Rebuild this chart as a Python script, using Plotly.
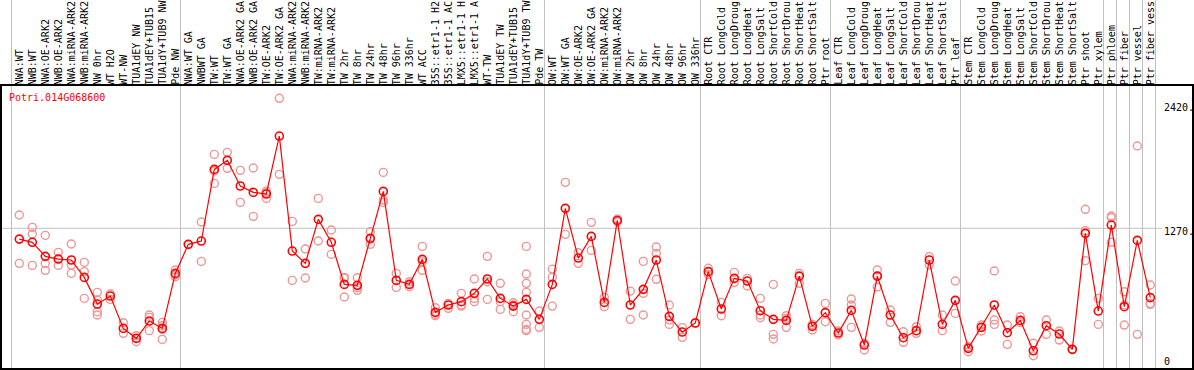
import plotly.graph_objects as go

gene = "Potri.014G068600"

categories = [
    "NWA:WT", "NWB:WT", "NWA:OE-ARK2", "NWB:OE-ARK2", "NWA:miRNA-ARK2", "NWB:miRNA-ARK2",
    "NW 0hr", "WT H2O", "WT-NW", "TUA1dEY NW", "TUA1dEY+TUB15", "TUA1dY+TUB9 NW", "Pde NW",
    "NWA:WT GA", "NWBWT GA", "TW:WT", "TW:WT GA", "NWA:OE-ARK2 GA", "NWB:OE-ARK2 GA",
    "TW:OE-ARK2", "TW:OE-ARK2 GA", "NWA:miRNA-ARK2", "NWB:miRNA-ARK2", "TW:miRNA-ARK2",
    "TW:miRNA-ARK2", "TW 2hr", "TW 8hr", "TW 24hr", "TW 48hr", "TW 96hr", "TW 336hr",
    "WT ACC", "35S::etr1-1 H2", "35S::etr1-1 AC", "LMX5::etr1-1 H", "LMX5::etr1-1 A",
    "WT-TW", "TUA1dEY TW", "TUA1dEY+TUB15", "TUA1dY+TUB9 TW", "Pde TW",
    "OW:WT", "OW:WT GA", "OW:OE-ARK2", "OW:OE-ARK2 GA", "OW:miRNA-ARK2", "OW:miRNA-ARK2",
    "OW 2hr", "OW 8hr", "OW 24hr", "OW 48hr", "OW 96hr", "OW 336hr",
    "Root CTR", "Root LongCold", "Root LongDroug", "Root LongHeat", "Root LongSalt",
    "Root ShortCold", "Root ShortDrou", "Root ShortHeat", "Root ShortSalt", "Ptr root",
    "Leaf CTR", "Leaf LongCold", "Leaf LongDroug", "Leaf LongHeat", "Leaf LongSalt",
    "Leaf ShortCold", "Leaf ShortDrou", "Leaf ShortHeat", "Leaf ShortSalt", "Ptr leaf",
    "Stem CTR", "Stem LongCold", "Stem LongDroug", "Stem LongHeat", "Stem LongSalt",
    "Stem ShortCold", "Stem ShortDrou", "Stem ShortHeat", "Stem ShortSalt", "Ptr shoot",
    "Ptr xylem", "Ptr phloem", "Ptr fiber", "Ptr vessel", "Ptr fiber vess",
]

mean_values = [
    1170, 1140, 1010, 985, 976, 815, 568, 642, 342, 250, 410, 342, 852,
    1121, 1152, 1816, 1900, 1662, 1603, 1588, 2125, 1059, 945, 1353, 1140,
    750, 741, 1177, 1612, 787, 750, 982, 491, 559, 590, 667, 800, 620, 549, 611, 426,
    750, 1455, 994, 1195, 583, 1343, 559, 704, 976, 454, 308, 392,
    868, 522, 806, 781, 506, 426, 416, 827, 361, 488,
    299, 509, 188, 827, 466, 256, 321, 976, 379, 602,
    157, 352, 559, 302, 416, 135, 367, 290, 148, 1223, 503,
    1300, 543, 1158, 627,
]

replicates = [
    [1393, 945], [1279, 1217, 926], [1204, 945, 880], [1047, 985, 926], [1124, 929, 852],
    [954, 868, 620], [676, 605, 497, 466], [661, 611], [395, 296], [274, 219],
    [466, 444, 321], [398, 367, 333, 240], [883, 837, 821],
    [1121], [1328, 963], [1955, 1801, 1686], [1974, 1826], [1807, 1510], [1829, 1381],
    [1615, 1600, 1547], [2475, 1770], [1334, 787], [1078, 809], [1547, 1152], [1254, 1028],
    [815, 806, 633], [812, 719, 695], [1238, 1170, 1121], [1788, 1532, 1510], [852, 722],
    [775, 750, 729], [1102, 960, 880], [534, 472, 460], [574, 528], [667, 559, 549],
    [800, 620, 590], [1010, 775, 611], [760, 590, 518], [580, 559, 497],
    [1102, 846, 760, 676, 466, 379, 333, 321], [503, 352],
    [892, 815, 549], [1696, 1214], [1044, 945], [1325, 1065], [630, 543], [1356, 1331],
    [688, 426], [963, 667, 466], [1096, 1038, 797], [559, 420, 379], [349, 259], [392],
    [899, 843], [583, 460], [861, 769], [806, 735], [620, 466, 441], [750, 287, 244],
    [460, 435, 352], [852, 760], [379, 327], [574, 404],
    [318, 281], [614, 559, 352], [204, 142], [883, 827, 726], [512, 398], [311, 213],
    [358, 296], [1007, 929], [466, 321], [781, 481],
    [172, 126], [373, 318], [874, 420, 379], [373, 194], [450, 398], [204, 89],
    [420, 287], [318, 234], [148], [1446, 1248, 970], [620, 379],
    [1384, 1368, 1140], [682, 559, 373], [2033, 287], [744, 574, 565],
]

y_tick_values = [0, 1270, 2420]
y_tick_labels = ["0", "1270.", "2420."]
group_ends = [0, 13, 41, 53, 63, 73, 84, 85, 86, 87, 88]

W, H = 1194, 370
PL, PR, PT, PB = 1, 1193, 85, 369
xpos = list(range(1, len(categories) + 1))
x_range = [1 + (PL - 19.3) / 13.0, 1 + (PR - 19.3) / 13.0]
y_range = [-34.3, 2598.4]

rep_x, rep_y = [], []
for i, reps in enumerate(replicates):
    for v in reps:
        rep_x.append(xpos[i])
        rep_y.append(v)

fig = go.Figure()
fig.add_trace(go.Scatter(
    x=rep_x, y=rep_y, mode="markers",
    marker=dict(symbol="circle-open", size=8, color="rgb(238,150,150)", line=dict(width=1.4)),
    showlegend=False, hoverinfo="skip", cliponaxis=False,
))
fig.add_trace(go.Scatter(
    x=xpos, y=mean_values, mode="lines+markers",
    line=dict(color="#ff0000", width=1.2),
    marker=dict(symbol="circle-open", size=8, color="#ff0000", line=dict(width=1.6)),
    showlegend=False, cliponaxis=False,
))

shapes = []
top_paper = 1 + PT / (PB - PT)
for b in group_ends:
    xv = b + 0.4
    shapes.append(dict(type="line", xref="x", yref="paper", x0=xv, x1=xv, y0=0, y1=top_paper,
                       line=dict(color="#c0c0c0", width=1), layer="below"))
x_grid_end = 1 + (1162 - 19.3) / 13.0
shapes.append(dict(type="line", xref="x", yref="y", x0=x_range[0], x1=x_grid_end,
                   y0=1270, y1=1270, line=dict(color="#c0c0c0", width=1), layer="below"))
shapes.append(dict(type="rect", xref="paper", yref="paper", x0=0, x1=1, y0=0, y1=1,
                   line=dict(color="black", width=2), layer="above"))

annotations = []
mono = "DejaVu Sans Mono"
for i, c in enumerate(categories):
    annotations.append(dict(
        x=xpos[i], y=1.0, xref="x", yref="paper", text=c, textangle=-90,
        showarrow=False, xanchor="center", yanchor="bottom",
        font=dict(family=mono, size=10, color="black"), borderpad=0, borderwidth=0,
    ))

label_x = 1 + (1164 - 19.3) / 13.0
label_offsets = {0: 33, 1270: 1238, 2420: 2388}
for v, t in zip(y_tick_values, y_tick_labels):
    annotations.append(dict(
        x=label_x, y=label_offsets[v], xref="x", yref="y", text=t, showarrow=False,
        xanchor="left", yanchor="middle", font=dict(family=mono, size=10, color="black"),
        borderpad=0, borderwidth=0,
    ))

annotations.append(dict(
    x=(9.3 - PL) / (PR - PL), y=(PB - 97.3) / (PB - PT), xref="paper", yref="paper",
    text=gene, showarrow=False, xanchor="left", yanchor="middle",
    font=dict(family=mono, size=10, color="#ff0000"), borderpad=0, borderwidth=0,
))

fig.update_layout(
    width=W, height=H,
    margin=dict(l=PL, r=W - PR, t=PT, b=H - PB, pad=0),
    paper_bgcolor="white", plot_bgcolor="white",
    xaxis=dict(range=x_range, showgrid=False, zeroline=False, showticklabels=False, ticks=""),
    yaxis=dict(range=y_range, showgrid=False, zeroline=False, showticklabels=False, ticks=""),
    shapes=shapes, annotations=annotations,
)

fig.write_html(
    "out.html",
    config={"displayModeBar": False},
    post_script="document.body.style.margin='0';document.body.style.overflow='hidden';",
)
